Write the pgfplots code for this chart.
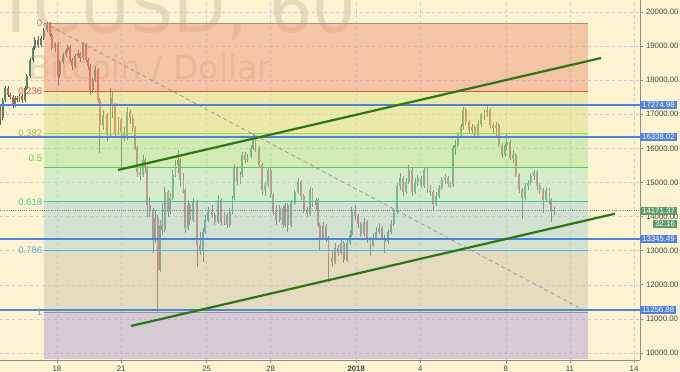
\documentclass[border=0pt]{standalone}
\usepackage{fontspec}
\setmainfont{Liberation Sans}
\newfontfamily\wmfont{DejaVu Sans}
\usepackage{pgfplots}
\usepackage{pgfplotstable}
\pgfplotsset{compat=1.18}

\definecolor{bgc}{RGB}{254,243,208}
\definecolor{z0}{RGB}{236,152,124}
\definecolor{z1}{RGB}{218,224,132}
\definecolor{z2}{RGB}{168,226,152}
\definecolor{z3}{RGB}{176,229,192}
\definecolor{z4}{RGB}{170,208,208}
\definecolor{z5}{RGB}{206,196,176}
\definecolor{z6}{RGB}{176,164,214}
\definecolor{f0}{RGB}{150,150,150}
\definecolor{f236}{RGB}{224,83,59}
\definecolor{f382}{RGB}{181,211,60}
\definecolor{f5}{RGB}{93,200,93}
\definecolor{f618}{RGB}{63,201,160}
\definecolor{f786}{RGB}{90,174,224}
\definecolor{blueln}{RGB}{80,130,218}
\definecolor{trend}{RGB}{44,118,22}
\definecolor{gridc}{RGB}{205,200,225}
\definecolor{upc}{RGB}{78,138,104}
\definecolor{dnc}{RGB}{205,88,76}
\definecolor{wickc}{RGB}{90,95,92}
\definecolor{curc}{RGB}{93,155,110}
\definecolor{axc}{RGB}{140,140,140}
\definecolor{tickc}{RGB}{70,70,70}
\definecolor{wmc}{RGB}{120,100,80}

\newcommand\tickfont{\fontsize{7.8bp}{9bp}\selectfont}
\newcommand\fibfont{\fontsize{9.5bp}{11bp}\selectfont}

\pgfplotstableread{
h o hi lo c
-64 17184 17302 16686 16891
-61 16891 17478 16832 17419
-58 17419 17830 17360 17771
-55 17771 17830 17507 17566
-53 17566 17624 17448 17507
-49 17507 17566 17184 17272
-47 17272 17536 17214 17478
-45 17478 17536 17360 17419
-42 17419 17595 17360 17536
-39 17536 17595 17331 17419
-36 17419 17830 17360 17771
-34 17771 18182 17712 18123
-30 18123 18651 18064 18592
-27 18592 19003 18533 18944
-25 18944 19267 18885 19179
-21 19179 19296 18944 19032
-18 19032 19296 18973 19237
-15 19237 19531 19179 19472
-11 19472 19707 19413 19648
-8 19648 19707 19267 19325
-6 19325 19384 18885 18944
-2 18944 19120 18827 19061
1 19061 19120 17830 18152
3 18152 18592 18064 18533
7 18533 18797 18475 18739
10 18739 18944 18680 18885
12 18885 19032 18827 18973
15 18973 19032 18533 18592
17 18592 18651 18299 18416
20 18416 18768 18358 18709
24 18709 18885 18651 18797
26 18797 18827 18533 18651
29 18651 19120 18592 19061
33 19061 19091 18533 18592
35 18592 18651 18299 18416
37 18416 18475 17566 17712
40 17712 18064 17624 18006
43 18006 18416 17947 18299
46 18299 18358 17331 17419
48 17419 17478 15865 16686
52 16686 17126 16539 16979
56 16979 17038 16216 16392
60 16392 17771 16334 17507
62 17507 17654 16891 17272
65 17272 17331 16334 16451
69 16451 16920 16392 16832
72 16832 16891 15425 16480
75 16480 16627 16216 16304
79 16304 17214 16246 17067
82 17067 17126 16715 16891
85 16891 16979 16480 16598
88 16598 16656 15953 16011
90 16011 16070 15161 15307
93 15307 15571 15073 15219
97 15219 15806 15161 15659
99 15659 15718 15278 15425
101 15425 15483 13987 14339
104 14339 14574 13987 14193
108 14193 14251 12931 13313
110 13313 14193 13225 13958
113 13958 14046 11201 12433
116 12433 13899 12374 13753
118 13753 14398 13459 13606
121 13606 14867 13547 14721
125 14721 14779 13987 14134
127 14134 14691 14075 14545
130 14545 15366 14486 15219
133 15219 15659 15161 15513
136 15513 15953 15278 15659
138 15659 15718 14867 15073
142 15073 15278 14691 14779
144 14779 14838 13518 13665
147 13665 14486 13606 14339
149 14339 14398 13753 13899
153 13899 14545 13841 14427
157 14427 14486 12521 13166
161 13166 13547 12873 13020
164 13020 13665 12668 13547
166 13547 14046 13489 13899
170 13899 14281 13841 14134
174 14134 14339 13958 14046
177 14046 14105 13753 13841
181 13841 14633 13782 14486
184 14486 14545 13753 13841
188 13841 14134 13753 14046
191 14046 14105 13665 13753
194 13753 14251 13694 14134
197 14134 14603 14075 14545
199 14545 15513 14486 15425
202 15425 15483 14926 15014
206 15014 15307 14955 15219
208 15219 15894 15161 15806
211 15806 15894 15571 15659
214 15659 15835 15601 15776
218 15776 16099 15718 16011
220 16011 16451 15953 16304
223 16304 16363 15894 16011
227 16011 16070 15425 15513
230 15513 15571 14633 14779
234 14779 15014 14603 14926
237 14926 15454 14867 15366
240 15366 15425 14545 14633
243 14633 14691 14046 14134
246 14134 14339 13753 13899
250 13899 14339 13841 14251
254 14251 14310 13665 13753
256 13753 14398 13694 14339
259 14339 14398 13547 13753
263 13753 14486 13694 14398
267 14398 14779 14339 14721
271 14721 15131 14662 15014
274 15014 15073 14486 14603
277 14603 14662 14105 14193
281 14193 14281 13987 14075
284 14075 14867 14017 14779
287 14779 14838 14281 14339
291 14339 14545 14193 14486
293 14486 14545 13694 13753
295 13753 13811 13020 13371
299 13371 13841 13313 13723
302 13723 13782 13254 13371
305 13371 13430 12081 12785
309 12785 13020 12521 12668
312 12668 13225 12609 13078
316 13078 13166 12843 12931
319 12931 13313 12873 13225
322 13225 13283 12638 12726
326 12726 13313 12668 13225
329 13225 13606 13166 13459
331 13459 14281 13401 14134
335 14134 14339 13899 14017
338 14017 14075 13665 13782
341 13782 13841 13401 13489
345 13489 13958 13430 13841
348 13841 13899 13225 13313
352 13313 13401 12843 13166
355 13166 13518 13107 13371
358 13371 13694 13313 13547
362 13547 13811 13489 13665
365 13665 13723 13313 13371
368 13371 13459 12931 13254
372 13254 13606 13195 13547
375 13547 13899 13489 13782
378 13782 14251 13723 14134
382 14134 14985 14075 14897
385 14897 15278 14779 15131
389 15131 15190 14603 14721
392 14721 15131 14662 15014
395 15014 15513 14955 15366
399 15366 15425 14603 14721
402 14721 15131 14662 15014
405 15014 15219 14897 15131
409 15131 15190 14838 14897
412 14897 15454 14838 15366
416 15366 15425 14691 14779
419 14779 14926 14603 14721
422 14721 14779 14193 14369
426 14369 14721 14310 14603
429 14603 14926 14545 14838
432 14838 15161 14779 15073
436 15073 15249 14955 15131
439 15131 15190 14867 14955
442 14955 15014 14838 14926
445 14926 16099 14867 16011
447 16011 16246 15806 16099
450 16099 16480 16040 16392
454 16392 16715 16334 16627
456 16627 17214 16539 17126
459 17126 17184 16686 16774
463 16774 16832 16451 16539
466 16539 16715 16451 16627
469 16627 16686 16304 16392
473 16392 16832 16334 16715
476 16715 17038 16627 16979
480 16979 17126 16832 17067
483 17067 17243 16920 17126
486 17126 17184 16598 16686
490 16686 16774 16451 16598
493 16598 16774 16334 16686
496 16686 16744 16040 16099
500 16099 16158 15718 15806
503 15806 16158 15747 16099
505 16099 16451 15953 16187
509 16187 16246 15659 15718
512 15718 15953 15571 15806
515 15806 15865 15161 15219
519 15219 15278 14691 14779
522 14779 14838 13929 14545
526 14545 14985 14486 14897
529 14897 15073 14779 14985
532 14985 15278 14926 15190
536 15190 15366 15073 15307
539 15307 15366 14779 14897
542 14897 14985 14662 14779
546 14779 14838 14105 14486
549 14486 14867 14427 14779
553 14779 14838 14369 14486
555 14486 14545 13841 14193
558 14193 14281 14046 14171
}\candles

\begin{document}
\begin{tikzpicture}
\begin{scope}
\clip (0,0) rectangle (680bp,372bp);
\fill[bgc] (0,0) rectangle (680bp,372bp);
\node[anchor=base east, inner sep=0pt, text=wmc, text opacity=0.18, font=\wmfont\fontsize{68bp}{74bp}\selectfont] at (356bp,339bp) {BTCUSD, 60};
\node[anchor=base west, inner sep=0pt, text=wmc, text opacity=0.18, font=\wmfont\fontsize{33bp}{38bp}\selectfont] at (28bp,292bp) {Bitcoin / Dollar};
\begin{axis}[
  at={(0,12bp)}, anchor=south west,
  scale only axis, width=640bp, height=360bp,
  xmin=-64, xmax=654.7, ymin=9793, ymax=20352,
  clip=false,
  axis x line*=bottom, axis y line*=right,
  axis line style={draw=axc, line width=0.8bp, -},
  xtick={0,72,168,240,336,408,504,576,648},
  xticklabels={18,21,25,28,\textbf{2018},4,8,11,14},
  ytick={10000,11000,12000,13000,14000,15000,16000,17000,18000,19000,20000},
  scaled y ticks=false,
  /pgf/number format/assume math mode=true,
  yticklabel style={font=\tickfont, text=tickc, /pgf/number format/.cd, fixed, fixed zerofill, precision=2, 1000 sep={}},
  xticklabel style={font=\tickfont, text=tickc},
  grid=major,
  major grid style={draw=gridc, dash pattern=on 3bp off 3bp, line width=0.5bp},
  tick style={draw=axc, line width=0.6bp},
  major tick length=2.5bp, tick align=outside,
]
% candles
\addplot[draw=none, mark=none, forget plot,
  error bars/.cd, y dir=plus, y explicit, error mark=none,
  error bar style={solid, line width=0.55bp, draw=wickc}]
  table[x=h, y=lo, y error plus expr=\thisrow{hi}-\thisrow{lo}] {\candles};
\addplot[draw=none, mark=none, forget plot,
  restrict expr to domain={\thisrow{c}-\thisrow{o}}{0:100000},
  error bars/.cd, y dir=plus, y explicit, error mark=none,
  error bar style={solid, line width=1.8bp, draw=upc}]
  table[x=h, y=o, y error plus expr=\thisrow{c}-\thisrow{o}] {\candles};
\addplot[draw=none, mark=none, forget plot,
  restrict expr to domain={\thisrow{o}-\thisrow{c}}{0.5:100000},
  error bars/.cd, y dir=plus, y explicit, error mark=none,
  error bar style={solid, line width=1.8bp, draw=dnc}]
  table[x=h, y=c, y error plus expr=\thisrow{o}-\thisrow{c}] {\candles};
% fib zones
\addplot[draw=none, fill=z0, fill opacity=0.5] coordinates {(-14.6,19680) (596.3,19680) (596.3,17676) (-14.6,17676)} -- cycle;
\addplot[draw=none, fill=z1, fill opacity=0.5] coordinates {(-14.6,17676) (596.3,17676) (596.3,16437) (-14.6,16437)} -- cycle;
\addplot[draw=none, fill=z2, fill opacity=0.5] coordinates {(-14.6,16437) (596.3,16437) (596.3,15435) (-14.6,15435)} -- cycle;
\addplot[draw=none, fill=z3, fill opacity=0.5] coordinates {(-14.6,15435) (596.3,15435) (596.3,14433) (-14.6,14433)} -- cycle;
\addplot[draw=none, fill=z4, fill opacity=0.5] coordinates {(-14.6,14433) (596.3,14433) (596.3,13007) (-14.6,13007)} -- cycle;
\addplot[draw=none, fill=z5, fill opacity=0.5] coordinates {(-14.6,13007) (596.3,13007) (596.3,11190) (-14.6,11190)} -- cycle;
\addplot[draw=none, fill=z6, fill opacity=0.5] coordinates {(-14.6,11190) (596.3,11190) (596.3,9830) (-14.6,9830)} -- cycle;
% fib lines
\addplot[f0, line width=0.8bp] coordinates {(-14.6,19680) (596.3,19680)};
\addplot[f236, line width=0.8bp] coordinates {(-14.6,17676) (596.3,17676)};
\addplot[f382, line width=1.2bp] coordinates {(-14.6,16437) (596.3,16437)};
\addplot[f5, line width=0.8bp] coordinates {(-14.6,15435) (596.3,15435)};
\addplot[f618, line width=0.8bp] coordinates {(-14.6,14433) (596.3,14433)};
\addplot[f786, line width=0.8bp] coordinates {(-14.6,13007) (596.3,13007)};
\addplot[f0, line width=1.2bp] coordinates {(-14.6,11190) (596.3,11190)};
% diagonal
\addplot[draw=f0, dash pattern=on 4bp off 3bp, line width=0.7bp] coordinates {(-14.6,19680) (596.3,11190)};
% horizontal price lines
\addplot[blueln, line width=1.5bp] coordinates {(-64,17274.98) (654.7,17274.98)};
\addplot[blueln, line width=1.5bp] coordinates {(-64,16338.02) (654.7,16338.02)};
\addplot[blueln, line width=1.5bp] coordinates {(-64,13345.49) (654.7,13345.49)};
\addplot[blueln, line width=1.5bp] coordinates {(-64,11256.88) (654.7,11256.88)};
\addplot[curc, line width=0.7bp, dash pattern=on 1bp off 1.2bp] coordinates {(-64,14171.37) (654.7,14171.37)};
% trend lines
\addplot[trend, line width=2.2bp] coordinates {(68.5,15366) (611,18651)};
\addplot[trend, line width=2.2bp] coordinates {(83,10790) (626.6,14084)};
% fib labels
\node[anchor=east, inner sep=0pt, text=f0, font=\fibfont] at (axis cs:-16.5,19680) {0};
\node[anchor=east, inner sep=0pt, text=f236, font=\fibfont] at (axis cs:-16.5,17676) {0.236};
\node[anchor=east, inner sep=0pt, text=f382!90!black, font=\fibfont] at (axis cs:-16.5,16437) {0.382};
\node[anchor=east, inner sep=0pt, text=f5, font=\fibfont] at (axis cs:-16.5,15700) {0.5};
\node[anchor=east, inner sep=0pt, text=f618, font=\fibfont] at (axis cs:-16.5,14433) {0.618};
\node[anchor=east, inner sep=0pt, text=f786, font=\fibfont] at (axis cs:-16.5,13007) {0.786};
\node[anchor=east, inner sep=0pt, text=f0, font=\fibfont] at (axis cs:-16.5,11190) {1};
% right price labels
\node[anchor=west, fill=blueln, text=white, font=\tickfont, inner xsep=2bp, inner ysep=1.3bp] at (axis cs:654.7,17274.98) {17274.98};
\node[anchor=west, fill=blueln, text=white, font=\tickfont, inner xsep=2bp, inner ysep=1.3bp] at (axis cs:654.7,16338.02) {16338.02};
\node[anchor=west, fill=blueln, text=white, font=\tickfont, inner xsep=2bp, inner ysep=1.3bp] at (axis cs:654.7,13345.49) {13345.49};
\node[anchor=west, fill=blueln, text=white, font=\tickfont, inner xsep=2bp, inner ysep=1.3bp] at (axis cs:654.7,11256.88) {11256.88};
\node[anchor=west, fill=curc, text=white, font=\tickfont, inner xsep=2bp, inner ysep=1.3bp] at (axis cs:654.7,14171.37) {14171.37};
\node[anchor=east, fill=curc, text=white, font=\tickfont, inner xsep=2bp, inner ysep=1.3bp] at (axis cs:696.3,13782) {32:16};
\end{axis}
\end{scope}
\pgfresetboundingbox
\path[use as bounding box] (0,0) rectangle (680bp,372bp);
\end{tikzpicture}
\end{document}
